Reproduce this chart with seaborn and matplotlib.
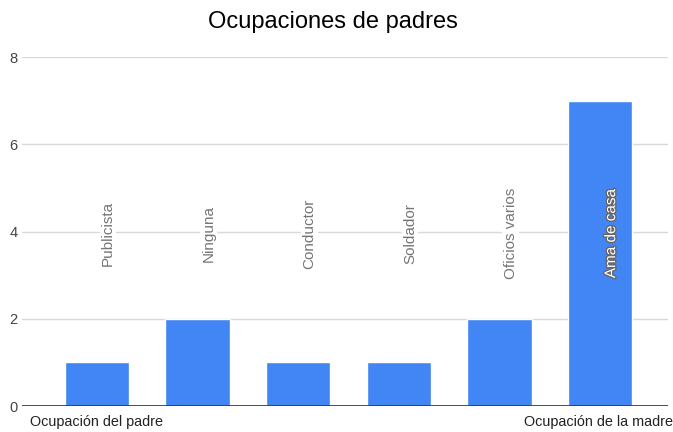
import matplotlib
matplotlib.use("Agg")
import matplotlib.pyplot as plt
import matplotlib.patheffects as pe
import pandas as pd
import seaborn as sns

# Data
ocupaciones = ["Publicista", "Ninguna", "Conductor", "Soldador", "Oficios varios", "Ama de casa"]
cantidades = [1, 2, 1, 1, 2, 7]
grupos = ["Ocupación del padre", "Ocupación de la madre"]

df = pd.DataFrame({"ocupacion": ocupaciones, "cantidad": cantidades})

sns.set_theme(style="white")
plt.rcParams['font.family'] = ['Arial', 'Liberation Sans', 'DejaVu Sans']

fig = plt.figure(figsize=(6.73, 4.32), dpi=100)
ax = fig.add_axes([0.0327, 0.060, 0.960, 0.808])

sns.barplot(data=df, x="ocupacion", y="cantidad", color="#4285F4",
            saturation=1, width=0.64, ax=ax, zorder=3)

ax.set_ylim(0, 8)
ax.set_xlim(-0.745, 5.676)
ax.set_yticks([0, 2, 4, 6, 8])
ax.yaxis.grid(True, color="#d9d9d9", linewidth=1, zorder=0)
ax.axhline(0, color="#333333", linewidth=1.2, zorder=4)
for s in ax.spines.values():
    s.set_visible(False)
ax.tick_params(axis="y", length=0, labelsize=10.5, labelcolor="#444444", pad=3)
ax.set_xticks([])
ax.set_xlabel("")
ax.set_ylabel("")

# rotated labels, a bit right of bar centre
for i, (name, val) in enumerate(zip(ocupaciones, cantidades)):
    if val > 4:
        ax.text(i + 0.11, 3.95, name, rotation=90, ha="center", va="center",
                fontsize=11, color="white",
                path_effects=[pe.withStroke(linewidth=2, foreground="#666666")], zorder=5)
    else:
        ax.text(i + 0.11, 3.95, name, rotation=90, ha="center", va="center",
                fontsize=11, color="#757575", zorder=5,
                bbox=dict(facecolor="white", edgecolor="none", pad=1))

# group labels under axis
ax.text(0.012, -0.025, grupos[0], transform=ax.transAxes, ha="left", va="top",
        fontsize=10.4, color="#222222")
ax.text(1.007, -0.025, grupos[1], transform=ax.transAxes, ha="right", va="top",
        fontsize=10.4, color="#222222")

fig.suptitle("Ocupaciones de padres", x=0.495, y=0.975, fontsize=17, color="#000000")

fig.savefig("out.png", dpi=100)
